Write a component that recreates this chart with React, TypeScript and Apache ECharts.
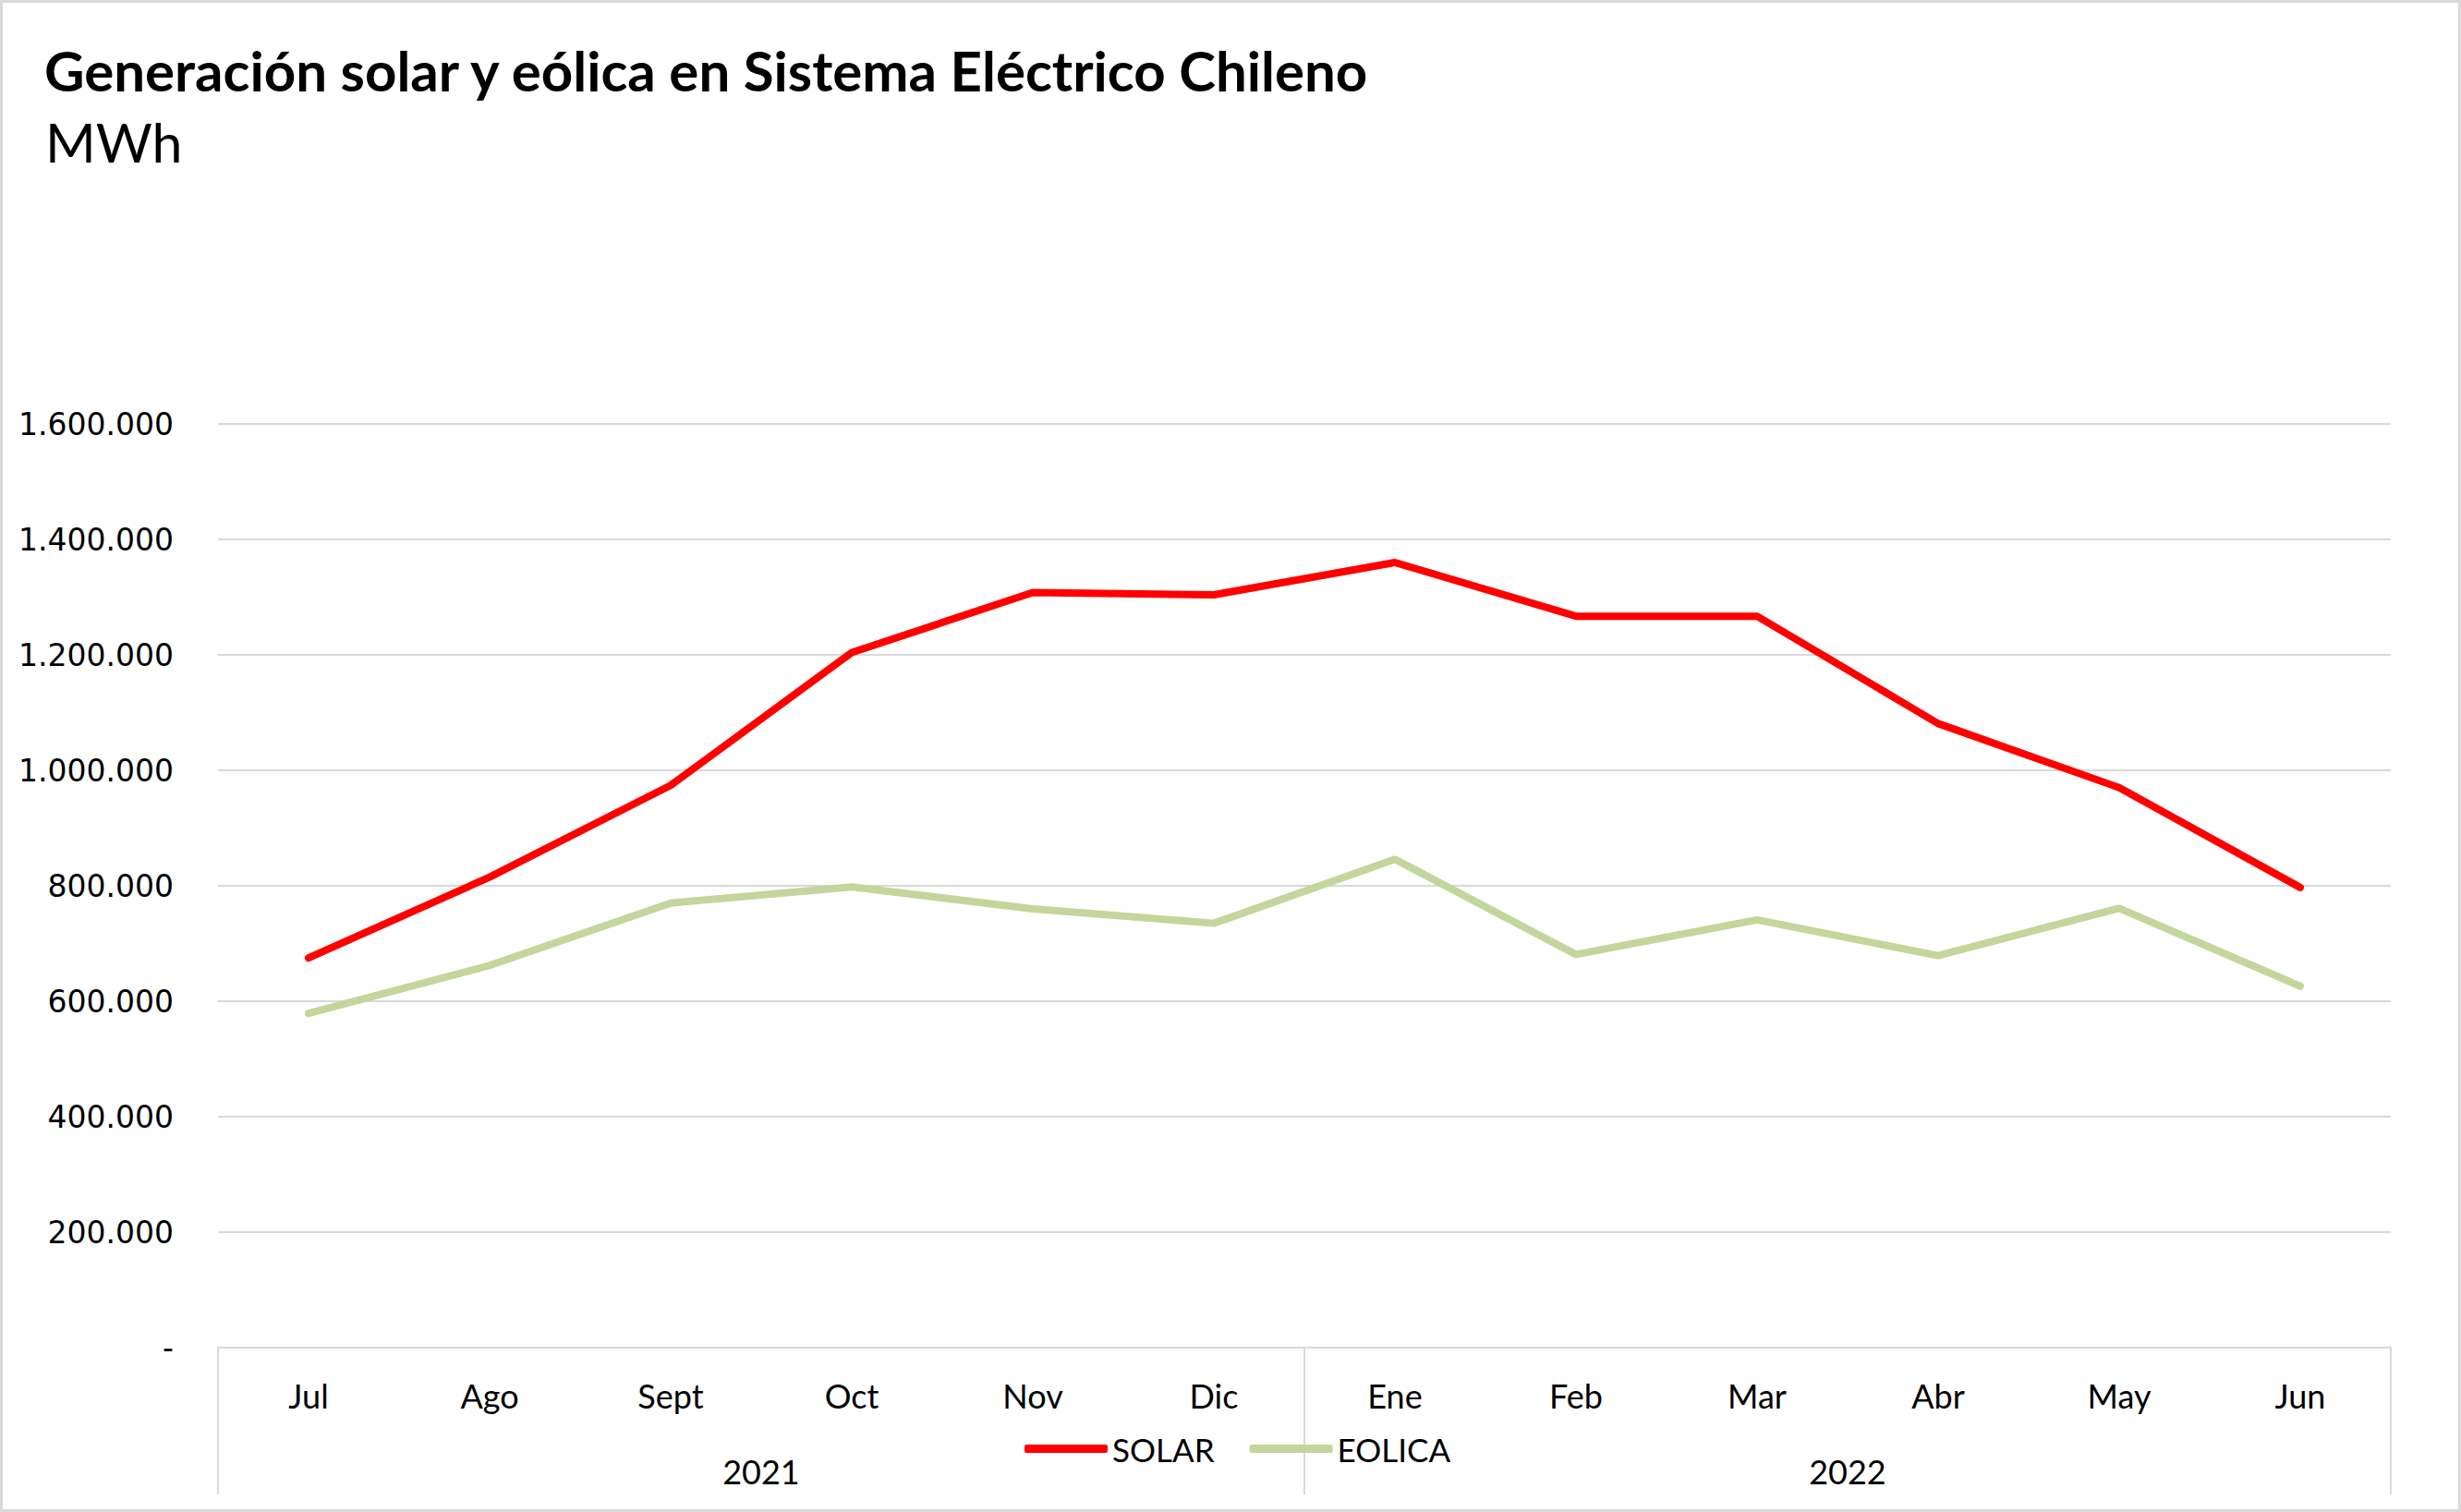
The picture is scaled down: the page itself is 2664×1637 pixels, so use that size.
import React, { useEffect, useRef } from "react";
import * as echarts from "echarts";

const months = ["Jul", "Ago", "Sept", "Oct", "Nov", "Dic", "Ene", "Feb", "Mar", "Abr", "May", "Jun"];
const years = ["2021", "2022"];
const solar = [675000, 815000, 974000, 1204000, 1308000, 1304000, 1360000, 1267000, 1267000, 1081000, 970000, 797000];
const eolica = [579000, 662000, 770000, 798000, 760000, 735000, 846000, 681000, 741000, 679000, 761000, 626000];
const titleText = "Generación solar y eólica en Sistema Eléctrico Chileno";
const subtitleText = "MWh";

const fmt = (v: number) => (v === 0 ? "-" : String(Math.round(v)).replace(/\B(?=(\d{3})+(?!\d))/g, "."));

export default function App() {
  const ref = useRef<HTMLDivElement>(null);
  useEffect(() => {
    document.body.style.margin = "0";
    const chart = echarts.init(ref.current!, null, { renderer: "svg" });
    const grey = "#d9d9d9";
    const sans = "Lato, 'Open Sans', sans-serif";
    chart.setOption({
      animation: false,
      backgroundColor: "#ffffff",
      title: [
        {
          text: titleText,
          left: 43,
          top: 41,
          textStyle: { fontFamily: sans, fontWeight: "bold", fontSize: 60, color: "#000" },
        },
        {
          text: subtitleText,
          left: 44,
          top: 119,
          textStyle: { fontFamily: sans, fontWeight: "normal", fontSize: 59, color: "#000" },
        },
      ],
      legend: {
        left: 1104,
        top: 1546,
        itemWidth: 90,
        itemHeight: 9,
        itemGap: 38,
        icon: "roundRect",
        textStyle: { fontFamily: sans, fontSize: 35, color: "#000" },
        data: ["SOLAR", "EOLICA"],
      },
      graphic: [
        {
          type: "rect",
          shape: { x: 1.5, y: 1.5, width: 2661, height: 1634 },
          style: { fill: "none", stroke: grey, lineWidth: 3 },
          silent: true,
        },
      ],
      grid: { left: 236, right: 76, top: 459, bottom: 178, containLabel: false },
      xAxis: [
        {
          type: "category",
          data: months,
          boundaryGap: true,
          position: "bottom",
          axisLine: { show: true, lineStyle: { color: grey, width: 2 } },
          axisTick: { show: false },
          axisLabel: { margin: 34, fontFamily: sans, fontSize: 36, color: "#000" },
        },
        {
          type: "category",
          data: years,
          boundaryGap: true,
          position: "bottom",
          axisLine: { show: false },
          axisTick: { show: true, length: 159, lineStyle: { color: grey, width: 2 } },
          axisLabel: { margin: 116, fontFamily: sans, fontSize: 36, color: "#000" },
        },
      ],
      yAxis: {
        type: "value",
        min: 0,
        max: 1600000,
        interval: 200000,
        axisLine: { show: false },
        axisTick: { show: false },
        splitLine: { lineStyle: { color: grey, width: 2 } },
        axisLabel: {
          margin: 48,
          fontFamily: "'DejaVu Sans', sans-serif",
          fontSize: 33,
          color: "#000",
          formatter: fmt,
        },
      },
      series: [
        {
          name: "SOLAR",
          type: "line",
          xAxisIndex: 0,
          data: solar,
          symbol: "none",
          color: "#ff0000",
          lineStyle: { color: "#ff0000", width: 8, cap: "round" },
        },
        {
          name: "EOLICA",
          type: "line",
          xAxisIndex: 0,
          data: eolica,
          symbol: "none",
          color: "#c3d69b",
          lineStyle: { color: "#c3d69b", width: 8, cap: "round" },
        },
      ],
    });
    return () => chart.dispose();
  }, []);
  return <div ref={ref} style={{ width: 2664, height: 1637 }} />;
}
